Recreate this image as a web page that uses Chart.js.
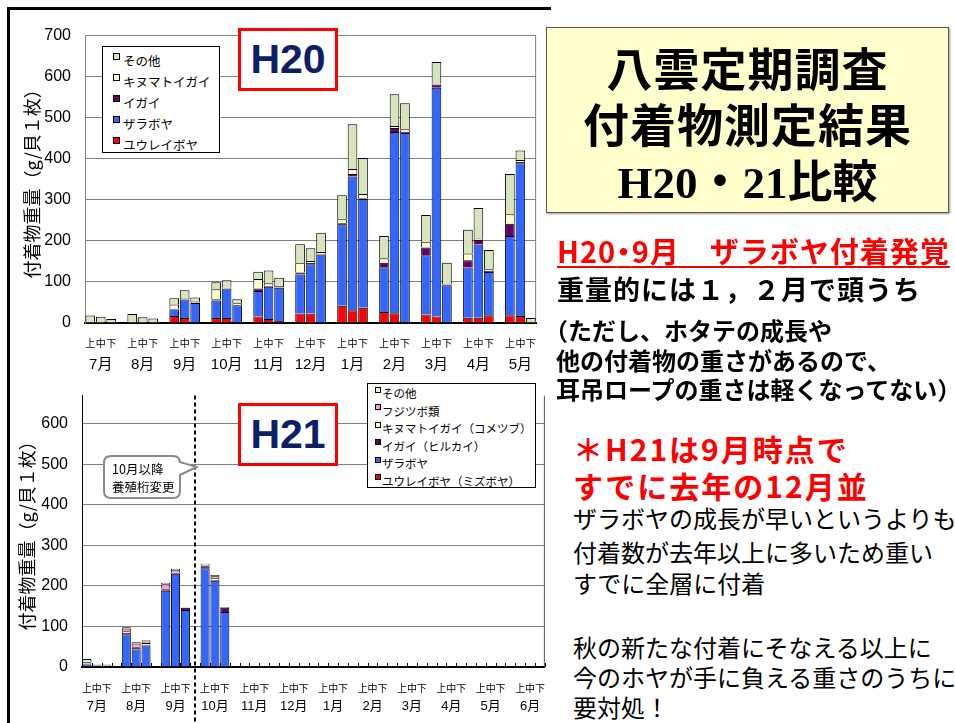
<!DOCTYPE html>
<html lang="ja">
<head>
<meta charset="utf-8">
<script src="https://cdn.jsdelivr.net/npm/chart.js@4.4.1/dist/chart.umd.min.js"></script>
<style>
  body { margin:0; width:955px; height:723px; overflow:hidden; background:#fff; position:relative;
         font-family:'Noto Sans CJK JP', sans-serif; }
  .abs { position:absolute; white-space:nowrap; line-height:1; }
  #frame { position:absolute; left:7px; top:7px; width:541px; height:730px; border-top:3px solid #000; border-left:3px solid #000; }
  canvas { position:absolute; }
  #c20 { left:10px; top:12px; }
  #c21 { left:10px; top:372px; }
  .tag { position:absolute; width:94px; height:57px; border:3px solid #f00; background:#fff; color:#0d2064;
         font:bold 41px 'Liberation Sans', sans-serif; text-align:center; line-height:57px; }
  .legend { position:absolute; background:#fff; border:1px solid #000; overflow:hidden; box-sizing:border-box; }
  .legend .row { position:relative; white-space:nowrap; }
  .legend .sw { position:absolute; border:1px solid #000; box-sizing:border-box; }
  #titlebox { position:absolute; left:546px; top:27px; width:401px; height:184px; background:#ffffcc;
              border:1px solid #555; box-shadow:1px 1px 2px #999; }
  #titlebox div { position:absolute; left:0; width:100%; text-align:center; line-height:1; font-weight:bold; color:#000; }
  .halt { font-feature-settings:'halt'; }
</style>
</head>
<body>
<div id="frame"></div>
<canvas id="c20" width="540" height="362"></canvas>
<canvas id="c21" width="550" height="351"></canvas>

<div class="tag" style="left:238px;top:28px;">H20</div>
<div class="tag" style="left:238px;top:403px;">H21</div>
<div id="leg20" class="legend" style="left:102px;top:46px;width:118px;height:107px;"></div>
<div id="leg21" class="legend" style="left:367px;top:383px;width:169px;height:105px;"></div>

<svg style="position:absolute;left:100px;top:450px;" width="105" height="55">
  <path d="M11,6 H73 Q80,6 80,13 V12 L96.7,17 L80,25 V41 Q80,48 73,48 H11 Q4,48 4,41 V13 Q4,6 11,6 Z"
        fill="#fff" stroke="#8a8a8a" stroke-width="2"/>
  <text x="12" y="24" font-family="Noto Sans CJK JP" font-size="12.5" fill="#000">10月以降</text>
  <text x="12" y="42" font-family="Noto Sans CJK JP" font-size="12.5" fill="#000">養殖桁変更</text>
</svg>

<div id="titlebox">
  <div style="top:15px;font-size:46px;letter-spacing:1px;">八雲定期調査</div>
  <div style="top:71px;font-size:46px;letter-spacing:1px;">付着物測定結果</div>
  <div style="top:128px;font-size:45px;"><span style="font-family:'Liberation Serif',serif;">H20</span>・<span style="font-family:'Liberation Serif',serif;">21</span>比較</div>
</div>

<div class="abs" style="left:557px;top:236px;font-size:29px;font-weight:bold;color:#f00;text-decoration:underline;text-underline-offset:3px;letter-spacing:1px;">H20<span class="halt">・</span>9月　ザラボヤ付着発覚</div>
<div class="abs" style="left:557px;top:275px;font-size:27px;font-weight:bold;letter-spacing:1px;">重量的には１，２月で頭うち</div>
<div class="abs" style="left:556px;top:318px;font-size:24px;font-weight:bold;"><span class="halt">（</span>ただし、ホタテの成長や</div>
<div class="abs" style="left:556px;top:348px;font-size:24px;font-weight:bold;">他の付着物の重さがあるので、</div>
<div class="abs" style="left:556px;top:377px;font-size:24px;font-weight:bold;">耳吊ロープの重さは軽くなってない）</div>

<div class="abs" style="left:573px;top:433px;font-size:30px;font-weight:bold;color:#f00;letter-spacing:2px;">＊H21は9月時点で</div>
<div class="abs" style="left:573px;top:470px;font-size:30px;font-weight:bold;color:#f00;letter-spacing:2px;">すでに去年の12月並</div>
<div class="abs" style="left:573px;top:506px;font-size:24px;">ザラボヤの成長が早いというよりも</div>
<div class="abs" style="left:573px;top:540px;font-size:24px;">付着数が去年以上に多いため重い</div>
<div class="abs" style="left:573px;top:571px;font-size:24px;">すでに全層に付着</div>
<div class="abs" style="left:573px;top:635px;font-size:24px;">秋の新たな付着にそなえる以上に</div>
<div class="abs" style="left:573px;top:665px;font-size:24px;">今のホヤが手に負える重さのうちに</div>
<div class="abs" style="left:573px;top:695px;font-size:24px;">要対処！</div>

<script>
// --- data: H20 (7月上 .. 5月下), g per shell
const months20 = ['7月', '8月', '9月', '10月', '11月', '12月', '1月', '2月', '3月', '4月', '5月'];
const months21 = ['7月', '8月', '9月', '10月', '11月', '12月', '1月', '2月', '3月', '4月', '5月', '6月'];
const thirds = ['上', '中', '下'];
const yTicks = [0, 100, 200, 300, 400, 500, 600, 700];

const names20 = ['ユウレイボヤ', 'ザラボヤ', 'イガイ', 'キヌマトイガイ', 'その他'];
const colors20 = ['#ff0000', '#3366ff', '#660066', '#ffffcc', '#d8e4bc'];
const yuurei20 = [0, 0, 0, 0, 0, 0, 17, 12, 0, 12, 12, 0, 16, 10, 5, 23, 23, 0, 42, 31, 37, 27, 24, 0, 21, 16, 0, 13, 13, 19, 19, 17, 0];
const zara20 = [0, 0, 0, 0, 0, 0, 16, 45, 49, 43, 72, 43, 62, 78, 81, 95, 120, 167, 196, 326, 265, 109, 441, 463, 144, 557, 92, 122, 178, 105, 193, 372, 0];
const igai20 = [0, 0, 0, 0, 0, 0, 2, 1, 1, 3, 0, 1, 6, 2, 1, 5, 3, 1, 5, 6, 2, 11, 10, 2, 19, 8, 2, 18, 11, 3, 30, 3, 0];
const kinu20 = [0, 0, 0, 0, 0, 0, 10, 3, 3, 24, 2, 4, 23, 7, 3, 24, 5, 5, 10, 12, 10, 11, 5, 7, 14, 2, 0, 16, 4, 4, 23, 5, 0];
const sonota20 = [18, 15, 10, 22, 14, 11, 15, 19, 9, 17, 18, 10, 18, 31, 20, 45, 31, 47, 58, 109, 88, 54, 77, 63, 65, 53, 53, 58, 74, 47, 98, 23, 12];

// --- data: H21 (measured up to 10月下)
const names21 = ['ユウレイボヤ（ミズボヤ）', 'ザラボヤ', 'イガイ（ヒルカイ）', 'キヌマトイガイ（コメツブ）', 'フジツボ類', 'その他'];
const colors21 = ['#ff0000', '#3366ff', '#660066', '#ffffcc', '#ff99cc', '#ccffcc'];
const yuurei21 = [0, 0, 0, 0, 0, 0, 0, 0, 0, 0, 0, 0];
const zara21 = [6, 3, 3, 81, 43, 53, 188, 230, 141, 244, 213, 136];
const igai21 = [2, 1, 1, 3, 6, 2, 4, 2, 5, 5, 2, 10];
const kinu21 = [0, 0, 0, 4, 1, 4, 1, 1, 0, 1, 4, 0];
const fuji21 = [4, 1, 1, 7, 8, 4, 11, 6, 0, 2, 5, 0];
const sonota21 = [8, 1, 1, 3, 3, 3, 4, 3, 1, 3, 3, 2];

Chart.defaults.font.family = "'Liberation Sans', 'Noto Sans CJK JP', sans-serif";
Chart.defaults.color = '#000';

// one empty slot between months, like the original sheet
function spread(vals, nMonths) {
  const out = [];
  for (let m = 0; m < nMonths; m++) {
    for (let k = 0; k < 3; k++) out.push(vals[m * 3 + k] ?? null);
    if (m < nMonths - 1) out.push(null);
  }
  return out;
}
function slotLabels(nMonths) {
  return spread(new Array(nMonths * 3).fill(0), nMonths).map((v, i) => i % 4 < 3 ? thirds[i % 4] : '');
}

const rightBorder = {
  id: 'rightBorder',
  beforeDatasetsDraw(chart, args, opts) {
    const { ctx, chartArea: a } = chart;
    ctx.save();
    ctx.strokeStyle = opts.color || '#808080';
    ctx.lineWidth = 1;
    ctx.beginPath();
    ctx.moveTo(a.right - 0.5, a.top);
    ctx.lineTo(a.right - 0.5, a.bottom);
    ctx.stroke();
    ctx.restore();
  }
};

// dashed divider + small inward ticks for the H21 chart
const h21Extras = {
  id: 'h21Extras',
  afterDraw(chart, args, opts) {
    const { ctx, chartArea: a, scales } = chart;
    const x = scales.x;
    const w = x.getPixelForValue(1) - x.getPixelForValue(0);
    ctx.save();
    ctx.strokeStyle = '#000';
    ctx.lineWidth = 1;
    ctx.beginPath();
    for (let i = 0; i <= chart.data.labels.length; i++) {
      const px = Math.round(a.left + i * w) + 0.5;
      ctx.moveTo(px, a.bottom);
      ctx.lineTo(px, a.bottom - 4);
    }
    ctx.stroke();
    const dx = Math.round(x.getPixelForValue(opts.dividerIndex));
    ctx.lineWidth = 2;
    ctx.setLineDash([4, 3]);
    ctx.beginPath();
    ctx.moveTo(dx, a.top);
    ctx.lineTo(dx, chart.height);
    ctx.stroke();
    ctx.restore();
  }
};

function makeChart(id, months, names, colors, series, opt) {
  const labels = slotLabels(months.length);
  return new Chart(document.getElementById(id), {
    type: 'bar',
    data: {
      labels: labels,
      datasets: series.map((s, i) => ({
        label: names[i],
        data: spread(s, months.length),
        backgroundColor: colors[i],
        borderColor: '#000',
        borderWidth: 1,
        categoryPercentage: 0.92,
        barPercentage: 1
      }))
    },
    options: {
      responsive: false,
      animation: false,
      layout: { padding: opt.padding },
      plugins: {
        legend: { display: false },
        tooltip: { enabled: false },
        rightBorder: { color: opt.frameColor },
        h21Extras: { dividerIndex: 11 }
      },
      scales: {
        x: {
          stacked: true,
          offset: true,
          grid: { display: false, drawTicks: false },
          border: { color: '#000', width: 2 },
          ticks: {
            autoSkip: false, maxRotation: 0, minRotation: 0,
            font: { size: 10, family: "'Noto Sans CJK JP', sans-serif" },
            padding: opt.subPad,
            callback: (v, i) => labels[i]
          },
          afterFit: s => { s.height = opt.subH; }
        },
        x2: {
          type: 'category',
          position: 'bottom',
          offset: true,
          grid: { display: false, drawTicks: false },
          border: { display: false },
          ticks: {
            autoSkip: false, maxRotation: 0, minRotation: 0,
            font: { size: opt.monthSize },
            padding: 5,
            callback: (v, i) => i % 4 === 1 ? months[Math.floor(i / 4)] : ''
          },
          afterFit: s => { s.height = opt.monthH; }
        },
        y: {
          stacked: true,
          min: 0,
          max: opt.yMax,
          afterBuildTicks: s => { s.ticks = yTicks.filter(t => t <= opt.yMax).map(v => ({ value: v })); },
          grid: { color: '#808080', drawTicks: false },
          border: { color: opt.yAxisColor, width: 1 },
          ticks: { font: { size: 16 }, padding: 14 },
          title: {
            display: true,
            text: '付着物重量（g/貝１枚）',
            font: { size: 18, family: "'Noto Sans CJK JP', sans-serif" },
            padding: { top: opt.titlePad, bottom: 0 }
          },
          afterFit: s => { s.width = opt.yW; }
        }
      }
    },
    plugins: opt.extra ? [rightBorder, h21Extras] : [rightBorder]
  });
}

makeChart('c20', months20, names20, colors20, [yuurei20, zara20, igai20, kinu20, sonota20], {
  padding: { top: 14, right: 11, left: 0, bottom: 0 },
  subPad: 14, subH: 28, monthSize: 15, monthH: 23,
  yMax: 700, yW: 75, titlePad: 11, frameColor: '#808080', yAxisColor: '#808080'
});
makeChart('c21', months21, names21, colors21, [yuurei21, zara21, igai21, kinu21, fuji21, sonota21], {
  padding: { top: 11, right: 4, left: 0, bottom: 0 },
  subPad: 15, subH: 27, monthSize: 13, monthH: 29,
  yMax: 670, yW: 72, titlePad: 6, frameColor: '#555', yAxisColor: '#000', extra: true
});

// legend boxes (top entry = top of the stack)
function buildLegend(elId, names, colors, o) {
  const box = document.getElementById(elId);
  box.style.paddingTop = o.padTop + 'px';
  for (let i = names.length - 1; i >= 0; i--) {
    const row = document.createElement('div');
    row.className = 'row';
    row.style.height = o.pitch + 'px';
    row.style.lineHeight = o.pitch + 'px';
    row.style.fontSize = o.size + 'px';
    row.style.paddingLeft = o.textX + 'px';
    const sw = document.createElement('span');
    sw.className = 'sw';
    sw.style.background = colors[i];
    sw.style.left = o.swX + 'px';
    sw.style.width = o.sw + 'px';
    sw.style.height = o.sw + 'px';
    sw.style.top = (o.pitch / 2 - o.sw - 1) + 'px';
    row.appendChild(sw);
    row.appendChild(document.createTextNode(names[i]));
    box.appendChild(row);
  }
}
buildLegend('leg20', names20, colors20, { padTop: 3, pitch: 21, size: 12.5, textX: 20, swX: 10, sw: 7 });
buildLegend('leg21', names21, colors21, { padTop: 1, pitch: 17.5, size: 11.5, textX: 14, swX: 7, sw: 6 });
</script>
</body>
</html>
